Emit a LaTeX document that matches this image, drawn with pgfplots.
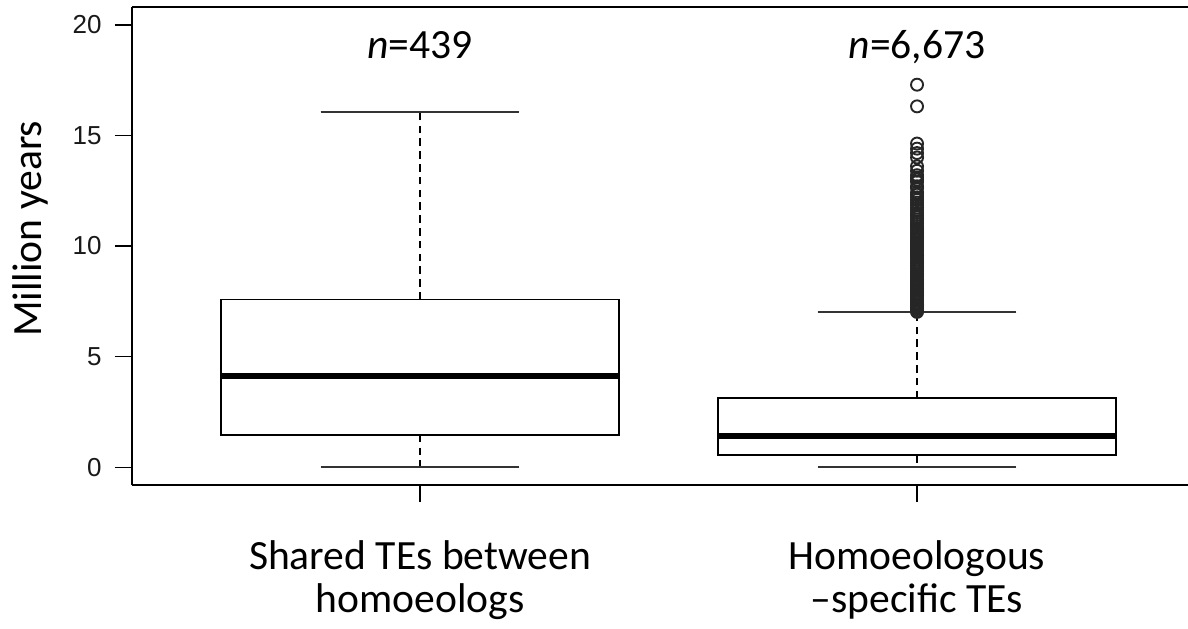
\documentclass[border=0pt]{standalone}
\usepackage{fontspec}
\setmainfont{Carlito}
\newfontfamily\tickfont{Liberation Sans}
\usepackage{pgfplots}
\usepgfplotslibrary{statistics}
\pgfplotsset{compat=1.18}

\begin{document}
\begin{tikzpicture}
\begin{axis}[
  scale only axis, width=528pt, height=239pt,
  xmin=0.4205, xmax=2.5452, ymin=-0.8, ymax=20.8,
  axis lines*=left,
  axis line style={line width=0.9pt, black},
  clip=false,
  xtick={1,2},
  xticklabels={{Shared TEs between\\homoeologs},{Homoeologous\\–specific TEs}},
  ytick={0,5,10,15,20}, yticklabels={0,5,10,15,20},
  tick align=outside, major tick length=8.5pt,
  tick style={line width=0.8pt, black},
  yticklabel style={font=\tickfont\fontsize{13}{13}\selectfont, text=black!90, inner sep=0pt, xshift=-6.5pt},
  xticklabel style={font=\fontsize{20.8}{21.7}\selectfont, align=center, inner sep=0pt, yshift=-19pt},
  ylabel={Million years},
  every axis y label/.style={at={(axis description cs:-0.096,0.536)}, rotate=90, anchor=center, font=\fontsize{20.8}{24}\selectfont},
  boxplot/draw direction=y,
  boxplot/every median/.style={line width=3pt},
  boxplot/draw/lower whisker/.code={
    \draw[dash pattern=on 3.8pt off 2.6pt, line width=0.7pt]
      (boxplot cs:\pgfplotsboxplotvalue{lower quartile}) -- (boxplot cs:\pgfplotsboxplotvalue{lower whisker});
    \draw[line width=1.1pt, black!80]
      (boxplot whisker cs:\pgfplotsboxplotvalue{lower whisker},0) -- (boxplot whisker cs:\pgfplotsboxplotvalue{lower whisker},1);
  },
  boxplot/draw/upper whisker/.code={
    \draw[dash pattern=on 3.8pt off 2.6pt, line width=0.7pt]
      (boxplot cs:\pgfplotsboxplotvalue{upper quartile}) -- (boxplot cs:\pgfplotsboxplotvalue{upper whisker});
    \draw[line width=1.1pt, black!80]
      (boxplot whisker cs:\pgfplotsboxplotvalue{upper whisker},0) -- (boxplot whisker cs:\pgfplotsboxplotvalue{upper whisker},1);
  },
]

% shared TEs between homoeologs
\addplot[boxplot prepared={draw position=1, lower whisker=0, lower quartile=1.47,
    median=4.11, upper quartile=7.58, upper whisker=16.07,
    box extend=0.8, whisker extend=0.4},
  draw=black, line width=0.8pt, fill=white] coordinates {};

% homoeologous-specific TEs, with its outliers
\addplot[boxplot prepared={draw position=2, lower whisker=0, lower quartile=0.55,
    median=1.43, upper quartile=3.12, upper whisker=7.0,
    box extend=0.8, whisker extend=0.4},
  draw=black, line width=0.8pt, fill=white,
  mark=o, mark size=3pt, mark options={line width=0.95pt, draw=black!85, solid}]
  coordinates {
  (0,7.02) (0,7.08) (0,7.15) (0,7.22) (0,7.3) (0,7.37) (0,7.45) (0,7.52) (0,7.6) (0,7.68)
  (0,7.75) (0,7.83) (0,7.9) (0,8.0) (0,8.08) (0,8.17) (0,8.25) (0,8.33) (0,8.42) (0,8.5)
  (0,8.6) (0,8.68) (0,8.77) (0,8.85) (0,8.95) (0,9.04) (0,9.12) (0,9.22) (0,9.3) (0,9.4)
  (0,9.5) (0,9.58) (0,9.68) (0,9.77) (0,9.86) (0,9.95) (0,10.05) (0,10.14) (0,10.24) (0,10.33)
  (0,10.42) (0,10.52) (0,10.6) (0,10.7) (0,10.8) (0,10.9) (0,11.0) (0,11.1) (0,11.2) (0,11.3)
  (0,11.4) (0,11.5) (0,11.62) (0,11.73) (0,11.85) (0,11.96) (0,12.08) (0,12.2) (0,12.32) (0,12.42)
  (0,12.62) (0,12.7) (0,12.9) (0,13.0) (0,13.1) (0,13.2) (0,13.4) (0,13.6) (0,14.0) (0,14.2)
  (0,14.4) (0,14.63) (0,16.31) (0,17.29)
  };

% sample sizes
\node[anchor=base, font=\fontsize{20.8}{24}\selectfont] at (axis cs:1,18.47) {\textit{n}=439};
\node[anchor=base, font=\fontsize{20.8}{24}\selectfont] at (axis cs:2,18.47) {\textit{n}=6,673};

% top frame line and the axis segment between the outer ticks
\draw[line width=0.9pt] (rel axis cs:0,1) -- (rel axis cs:1,1);
\draw[line width=1.3pt] (axis cs:1,-0.8) -- (axis cs:2,-0.8);

\coordinate (sw) at (rel axis cs:0,0);
\coordinate (ne) at (rel axis cs:1,1);
\end{axis}
\pgfresetboundingbox
\path[use as bounding box] ([shift={(-66pt,-71.5pt)}]sw) rectangle ([yshift=3.5pt]ne);
\end{tikzpicture}
\end{document}
